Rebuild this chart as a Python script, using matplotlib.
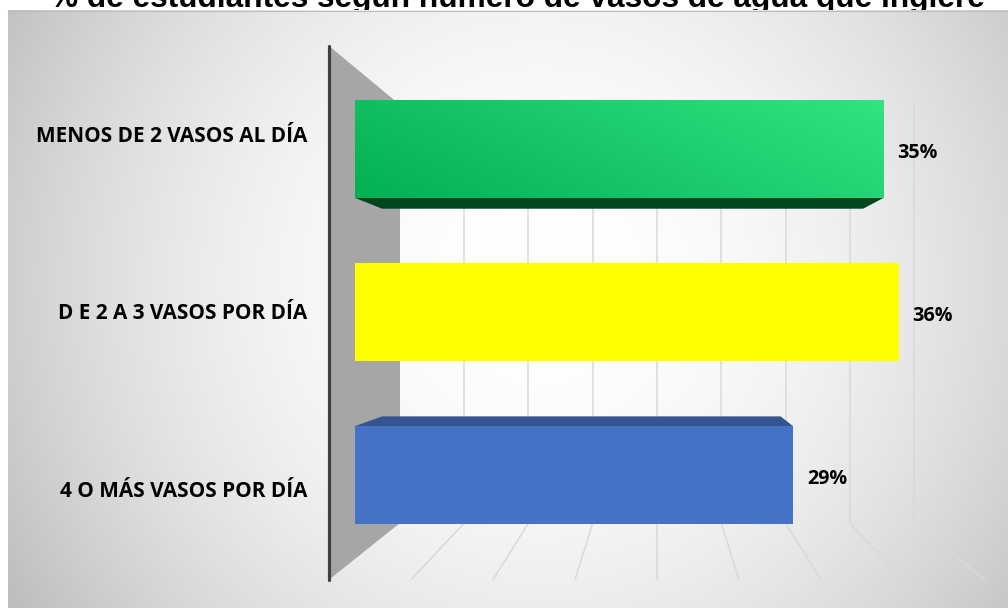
import numpy as np
import matplotlib
matplotlib.use("Agg")
import matplotlib.pyplot as plt
from matplotlib.patches import Polygon

# ---------------- data ----------------
title = "% de estudiantes según número de vasos de agua que ingiere"
categories = ["4 O MÁS VASOS POR DÍA", "D E 2 A 3 VASOS POR DÍA", "MENOS DE 2 VASOS AL DÍA"]
values = [29, 36, 35]
value_labels = ["29%", "36%", "35%"]
bar_colors = ["#4472C4", "#FFFF00", "#00B050"]
face_colors = ["#34558F", "#B8B800", "#00461E"]
xticks = [0, 5, 10, 15, 20, 25, 30, 35, 40]

# ---------------- layout ----------------
W, H = 1008, 608
fig = plt.figure(figsize=(W / 100, H / 100), dpi=100)
fig.patch.set_facecolor("white")

VP = (657.0, 318.0)          # vanishing point (pixels)
F_FRONT, F_BACK, F_BARBACK = 1.086, 0.851, 0.91
Y_FLOOR, Y_TOP = -0.515, 2.5

# overlay axes in pixel coordinates
ov = fig.add_axes([0, 0, 1, 1], zorder=0)
ov.set_xlim(0, W)
ov.set_ylim(H, 0)
ov.axis("off")

# background radial gradient (chart area)
x0, y0 = 8, 10
gx = np.arange(x0, W) + 0.5
gy = np.arange(y0, H) + 0.5
GX, GY = np.meshgrid(gx, gy)
cx, cy = 540.0, 280.0
r = np.sqrt((GX - cx) ** 2 + (GY - cy) ** 2) / 560.0
drop = 65.0 * np.clip(r / 1.1, 0, 1) ** 2
val = (255.0 - drop) / 255.0
img = np.dstack([val, val, val])
ov.imshow(img, extent=(x0, W, H, y0), origin="upper", aspect="auto",
          interpolation="bilinear", zorder=0)
ov.plot([x0, W], [y0 + 0.5, y0 + 0.5], color="#BDBDBD", lw=0.8, zorder=1)
ov.set_xlim(0, W)
ov.set_ylim(H, 0)

# main axes: bar plane
left_px, unit_x = 355.0, 15.1
top_px, unit_y = 312.0 - 1.5 * 163.0, 163.0
ax = fig.add_axes([left_px / W, (H - (top_px + 3 * unit_y)) / H,
                   40 * unit_x / W, 3 * unit_y / H], zorder=2)
ax.set_xlim(0, 40)
ax.set_ylim(-0.5, 2.5)
ax.axis("off")
ax.patch.set_alpha(0)


def to_px(x, y):
    d = ax.transData.transform((x, y))
    return d[0], H - d[1]


def proj(x, y, f):
    px, py = to_px(x, y)
    return VP[0] + (px - VP[0]) * f, VP[1] + (py - VP[1]) * f


# side wall
wall = Polygon([proj(0, Y_TOP, F_FRONT), proj(0, Y_TOP, F_BACK),
                proj(0, Y_FLOOR, F_BACK), proj(0, Y_FLOOR, F_FRONT)],
               closed=True, facecolor="#A6A6A6", edgecolor="none", zorder=2)
ov.add_patch(wall)

# back wall gridlines and floor lines
for t in xticks[1:]:
    bx1, by1 = proj(t, Y_TOP, F_BACK)
    bx2, by2 = proj(t, Y_FLOOR, F_BACK)
    fx, fy = proj(t, Y_FLOOR, F_FRONT)
    ov.plot([bx1, bx2], [by1, by2], color="#D9D9D9", lw=1.1, zorder=2,
            solid_capstyle="butt")
    ov.plot([bx2, fx], [by2, fy], color="#D9D9D9", lw=1.1, zorder=2,
            solid_capstyle="butt")

# axis line
ax_top = proj(0, Y_TOP, F_FRONT)
ax_bot = proj(0, Y_FLOOR, F_FRONT)
ov.plot([ax_top[0], ax_bot[0]], [ax_top[1], ax_bot[1]], color="#404040",
        lw=2.3, zorder=3, solid_capstyle="round")

# bars
ypos = np.arange(len(categories))
bh = 0.6
bars = ax.barh(ypos, values, height=bh, color=bar_colors, zorder=2)

# 3D faces (top/bottom), drawn behind the front faces
for i, (yc, v) in enumerate(zip(ypos, values)):
    for yy in (yc + bh / 2, yc - bh / 2):
        poly = Polygon([proj(0, yy, 1.0), proj(v, yy, 1.0),
                        proj(v, yy, F_BARBACK), proj(0, yy, F_BARBACK)],
                       closed=True, facecolor=face_colors[i], edgecolor="none",
                       zorder=6)
        ov.add_patch(poly)

# gradient fill for the green bar
gi = 2
nx, ny = 200, 60
XX, YY = np.meshgrid(np.linspace(0, 1, nx), np.linspace(0, 1, ny))
tt = 0.72 * XX + 0.28 * YY
c1 = np.array([0x03, 0xB0, 0x52]) / 255.0
c2 = np.array([0x33, 0xE3, 0x82]) / 255.0
gimg = c1[None, None, :] * (1 - tt[..., None]) + c2[None, None, :] * tt[..., None]
im = ax.imshow(gimg, extent=(0, values[gi], ypos[gi] - bh / 2, ypos[gi] + bh / 2),
               origin="lower", aspect="auto", zorder=3, interpolation="bilinear")
im.set_clip_path(bars[gi])
ax.set_xlim(0, 40)
ax.set_ylim(-0.5, 2.5)

renderer = fig.canvas.get_renderer()


def fit(text_artist, target_w):
    w = text_artist.get_window_extent(renderer).width
    text_artist.set_fontsize(text_artist.get_fontsize() * target_w / w)


# category labels
lab_font = dict(family="Open Sans", weight="bold", color="#000000")
lab_artists = []
for yc, lab in zip(ypos, categories):
    px, py = proj(0, yc, F_FRONT)
    t = ov.text(px - 22, py + 8, lab, ha="right", va="baseline", fontsize=14,
                zorder=8, **lab_font)
    lab_artists.append(t)
probe = lab_artists[2]
w0 = probe.get_window_extent(renderer).width
scale = 272.0 / w0
for t in lab_artists:
    t.set_fontsize(t.get_fontsize() * scale)

# value labels
val_artists = []
for yc, v, s in zip(ypos, values, value_labels):
    t = ax.annotate(s, xy=(v, yc), xytext=(14, -9.3), textcoords="offset pixels",
                    ha="left", va="baseline", fontsize=14, zorder=8, **lab_font)
    val_artists.append(t)
w0 = val_artists[0].get_window_extent(renderer).width
scale = 40.5 / w0
for t in val_artists:
    t.set_fontsize(t.get_fontsize() * scale)

# title (partly cut at the top, drawn behind the chart area)
tt_ = fig.text(517.5 / W, 1 - 7.0 / H, title, ha="center", va="baseline",
               family="Liberation Sans", weight="bold", fontsize=22, color="#000000",
               zorder=-1)
fit(tt_, 935.0)

fig.savefig("out.png", dpi=100)
